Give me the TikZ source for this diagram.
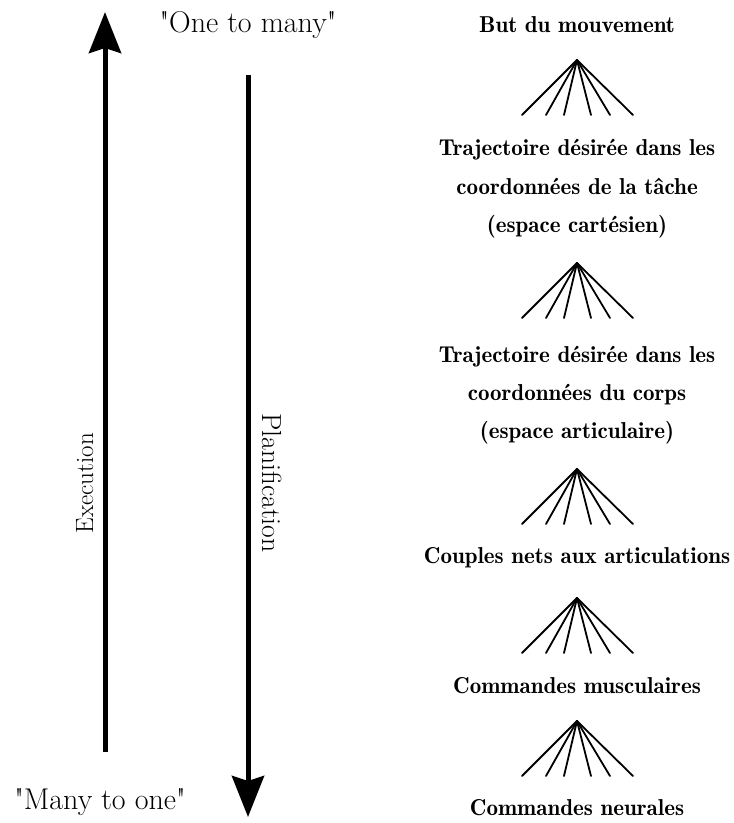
\documentclass[tikz,border=0pt]{standalone}
\usetikzlibrary{arrows.meta}
\begin{document}
\begin{tikzpicture}[x=1pt,y=-1pt,
  bigarrow/.style={line width=5pt,-{Stealth[length=41pt,width=32pt,inset=5pt]}},
  fanline/.style={line width=1.8pt,line cap=round},
  lefttxt/.style={anchor=base,inner sep=0pt},
  righttxt/.style={font=\fontsize{23}{26}\fontseries{b}\selectfont,anchor=base,inner sep=0pt}]
\useasboundingbox (0,0) rectangle (734,823);
% arrows
\coordinate (exeS) at (105,752);
\coordinate (exeE) at (105,12);
\coordinate (plaS) at (248,75);
\coordinate (plaE) at (248,817);
\draw[bigarrow] (exeS) -- (exeE);
\draw[bigarrow] (plaS) -- (plaE);
% left labels
\node[lefttxt,font=\fontsize{30}{34}\selectfont] (otm) at (248,32) {\textquotedbl One to many\textquotedbl};
\node[lefttxt,font=\fontsize{30}{34}\selectfont] (mto) at (100,809) {\textquotedbl Many to one\textquotedbl};
\node[lefttxt,rotate=90,font=\fontsize{25}{30}\selectfont] (exe) at (93,483) {Execution};
\node[lefttxt,rotate=-90,font=\fontsize{27.6}{30}\selectfont] (pla) at (262,483) {Planification};
% right labels
\node[righttxt] (t1) at (577,32) {But du mouvement};
\node[righttxt] (t2a) at (577,155) {Trajectoire désirée dans les};
\node[righttxt] (t2b) at (577,194) {coordonnées de la tâche};
\node[righttxt] (t2c) at (577,232) {(espace cartésien)};
\node[righttxt] (t3a) at (577,362) {Trajectoire désirée dans les};
\node[righttxt] (t3b) at (577,400) {coordonnées du corps};
\node[righttxt] (t3c) at (577,438) {(espace articulaire)};
\node[righttxt] (t4) at (577,563) {Couples nets aux articulations};
\node[righttxt] (t5) at (577,693) {Commandes musculaires};
\node[righttxt] (t6) at (577,815) {Commandes neurales};
% fans
\foreach \n/\y in {f1/60,f2/263,f3/469,f4/598,f5/721}{
  \coordinate (\n) at (577,\y);
  \foreach \dx in {-55,-31,-13,14,33,56}{
    \draw[fanline] (\n) -- ++(\dx,55);
  }
}
\end{tikzpicture}
\end{document}
